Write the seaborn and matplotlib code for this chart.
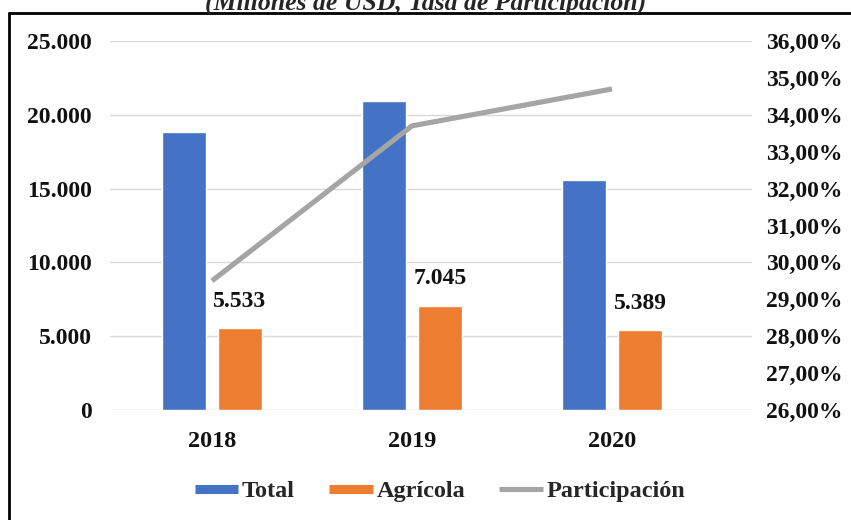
import numpy as np
import pandas as pd
import matplotlib.pyplot as plt
import seaborn as sns
from matplotlib.lines import Line2D
from matplotlib.ticker import FuncFormatter

# data
years = ["2018", "2019", "2020"]
total = [18850, 20950, 15580]
agricola = [5533, 7045, 5389]
participacion = [0.295, 0.337, 0.347]

BLUE = "#4472C4"
ORANGE = "#ED7D31"
GRAY = "#A5A5A5"

sns.set_theme(style="white")
plt.rcParams["font.family"] = ["Liberation Serif", "DejaVu Serif"]
plt.rcParams["font.weight"] = "bold"


def miles(v, pos=None):
    # 25000 -> "25.000"
    return f"{v:,.0f}".replace(",", ".")


def pct(v, pos=None):
    return f"{v * 100:.2f}%".replace(".", ",")


df = pd.DataFrame({
    "year": years * 2,
    "serie": ["Total"] * 3 + ["Agrícola"] * 3,
    "valor": total + agricola,
})

fig = plt.figure(figsize=(8.51, 5.20), dpi=100)
ax = fig.add_axes([110 / 851, 1 - 410 / 520, 642 / 851, 369 / 520])

sns.barplot(data=df, x="year", y="valor", hue="serie", palette=[BLUE, ORANGE],
            width=0.56, gap=0.2, ax=ax, legend=False, saturation=1)

ax.set_ylim(0, 25000)
ax.set_yticks(np.arange(0, 25001, 5000))
ax.yaxis.set_major_formatter(FuncFormatter(miles))
ax.grid(axis="y", color="#d9d9d9", lw=1)
ax.set_axisbelow(True)
for s in ax.spines.values():
    s.set_visible(False)
ax.tick_params(axis="y", length=0, pad=13, labelsize=17)
ax.tick_params(axis="x", length=0, pad=15, labelsize=17.5)
ax.set_xlabel("")
ax.set_ylabel("")

# value labels on Agrícola bars
orange_bars = ax.containers[1]
ax.bar_label(orange_bars, labels=[miles(v) for v in agricola], padding=12,
             fontsize=17, fontweight="bold", color="#111111")

ax2 = ax.twinx()
sns.lineplot(x=np.arange(len(years)), y=participacion, color=GRAY, lw=3.7,
             ax=ax2, solid_capstyle="butt")
ax2.set_ylim(0.26, 0.36)
ax2.set_yticks(np.arange(0.26, 0.3601, 0.01))
ax2.yaxis.set_major_formatter(FuncFormatter(pct))
ax2.tick_params(axis="y", length=0, pad=10, labelsize=17)
for s in ax2.spines.values():
    s.set_visible(False)
ax2.grid(False)
ax2.set_ylabel("")

ax.set_xlim(-0.51, 2.7)
ax2.set_xlim(-0.51, 2.7)

for lab in ax.get_xticklabels() + ax.get_yticklabels() + ax2.get_yticklabels():
    lab.set_fontweight("bold")
    lab.set_color("#111111")

handles = [
    Line2D([], [], color=BLUE, lw=6.5, solid_capstyle="butt"),
    Line2D([], [], color=ORANGE, lw=6.5, solid_capstyle="butt"),
    Line2D([], [], color=GRAY, lw=3.7, solid_capstyle="butt"),
]
fig.legend(handles, ["Total", "Agrícola", "Participación"], loc="center",
           bbox_to_anchor=(440 / 851, 1 - 491 / 520), ncol=3, frameon=False,
           handlelength=1.8, handletextpad=0.15, columnspacing=1.4,
           prop={"size": 17.5, "weight": "bold"})

# cut-off title and the frame edges seen in the picture
fig.text(0.5, 1 - 10 / 520, "(Millones de USD, Tasa de Participación)",
         ha="center", va="baseline", fontsize=18.5, fontweight="bold",
         fontstyle="italic")
fig.add_artist(Line2D([9 / 851, 9 / 851], [0, 1 - 13 / 520], color="black",
                      lw=2, transform=fig.transFigure))
fig.add_artist(Line2D([9 / 851, 1], [1 - 13 / 520, 1 - 13 / 520], color="black",
                      lw=2, transform=fig.transFigure))

fig.savefig("out.png", dpi=100)
